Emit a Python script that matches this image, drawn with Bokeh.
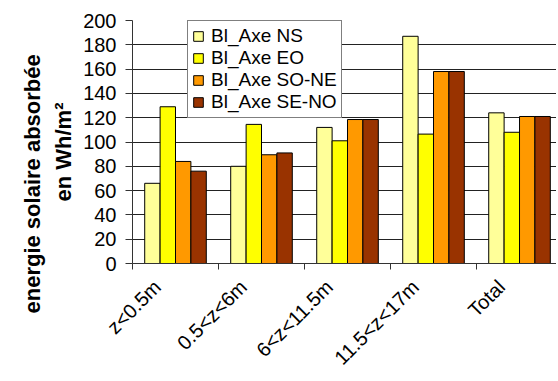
import math
from bokeh.plotting import figure
from bokeh.models import (Range1d, FixedTicker, LinearAxis, Legend, LegendItem,
                          ColumnDataSource, Title)
from bokeh.embed import file_html
from bokeh.resources import INLINE

categories = ["z<0.5m", "0.5<z<6m", "6<z<11.5m", "11.5<z<17m", "Total"]
series_names = ["Bl_Axe NS", "Bl_Axe EO", "Bl_Axe SO-NE", "Bl_Axe SE-NO"]
ns = [66, 80, 112, 187, 124]
eo = [129, 114.5, 101, 106.5, 108]
sone = [84, 89.5, 118.5, 158, 121]
seno = [76, 91, 118.5, 158, 121]
colors = ["#FFFF99", "#FFFF00", "#FF9900", "#993300"]
y_ticks = [0, 20, 40, 60, 80, 100, 120, 140, 160, 180, 200]
y_title_lines = ["energie solaire absorbée", "en Wh/m²"]

FONT = "Liberation Sans"

p = figure(width=556, height=380, output_backend="svg", toolbar_location=None,
           x_range=Range1d(0, 4.93), y_range=Range1d(0, 200),
           x_axis_type=None, min_border_left=132, min_border_right=0,
           min_border_top=20, min_border_bottom=117)
p.outline_line_color = None
p.xgrid.grid_line_color = None
p.ygrid.grid_line_color = "#222222"
p.ygrid.ticker = FixedTicker(ticks=y_ticks)

# y axis
p.yaxis.ticker = FixedTicker(ticks=y_ticks)
p.yaxis.axis_line_color = "#333333"
p.yaxis.major_tick_line_color = "#333333"
p.yaxis.major_tick_in = 0
p.yaxis.major_tick_out = 7
p.yaxis.minor_tick_line_color = None
p.yaxis.major_label_text_font = FONT
p.yaxis.major_label_text_font_size = "20px"
p.yaxis.major_label_text_color = "black"
p.yaxis.major_label_standoff = 9

# y title: two lines as titles on the left (inner line first), bottom-anchored
for txt, off, sto in zip(reversed(y_title_lines), [62, -50], [9, 0]):
    p.add_layout(Title(text=txt, align="left", offset=off, standoff=sto,
                       text_font=FONT, text_font_style="bold",
                       text_font_size="22px", text_color="black"), "left")

# x axis: boundary ticks as minor ticks, labels anchored left of centres
label_pos = [i + 0.29 for i in range(len(categories))]
xaxis = LinearAxis(ticker=FixedTicker(ticks=label_pos, minor_ticks=list(range(len(categories)))))
xaxis.major_label_overrides = {c: lab for c, lab in zip(label_pos, categories)}
xaxis.major_label_orientation = math.pi / 4
xaxis.major_label_text_font = FONT
xaxis.major_label_text_font_size = "20px"
xaxis.major_label_text_color = "black"
xaxis.major_tick_in = 0
xaxis.major_tick_out = 0
xaxis.minor_tick_in = 0
xaxis.minor_tick_out = 6
xaxis.minor_tick_line_color = "#333333"
xaxis.axis_line_color = "#333333"
xaxis.major_label_standoff = 14
p.add_layout(xaxis, "below")

centers = [i + 0.5 for i in range(len(categories))]
w = 0.179
offsets = [-1.5 * w, -0.5 * w, 0.5 * w, 1.5 * w]
items = []
for vals, col, off, name in zip([ns, eo, sone, seno], colors, offsets, series_names):
    src = ColumnDataSource(dict(x=[c + off for c in centers], top=vals))
    r = p.vbar(x="x", top="top", bottom=0, width=w, source=src,
               fill_color=col, line_color="black", line_width=1)
    items.append(LegendItem(label=name, renderers=[r]))

legend = Legend(items=items, location=(55, 145))
legend.label_text_font = FONT
legend.label_text_font_size = "19px"
legend.label_text_color = "black"
legend.glyph_width = 12
legend.glyph_height = 12
legend.label_height = 18
legend.label_standoff = 7
legend.spacing = -2
legend.padding = 4
legend.margin = 0
legend.border_line_color = "black"
legend.border_line_width = 1
legend.background_fill_alpha = 1
p.add_layout(legend, "center")

open("out.html", "w").write(file_html(p, INLINE))
